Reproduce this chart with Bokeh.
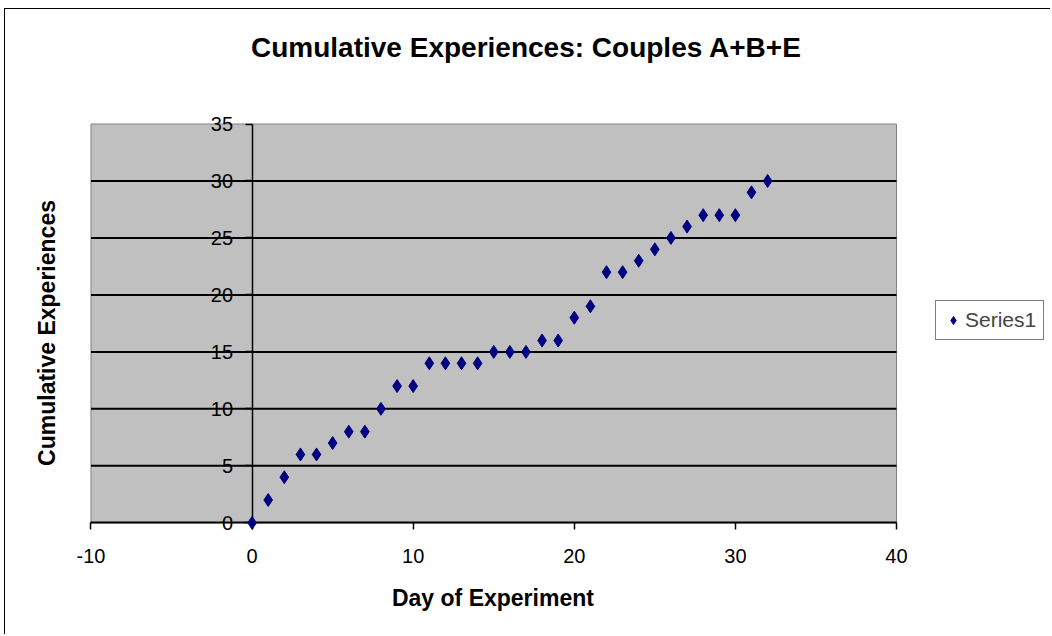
import math
from bokeh.plotting import figure
from bokeh.models import Range1d, Label, Legend, LegendItem, FixedTicker, ColumnDataSource
from bokeh.embed import file_html
from bokeh.resources import INLINE

# Data
days = list(range(0, 33))
cumulative = [0, 2, 4, 6, 6, 7, 8, 8, 10, 12, 12, 14, 14, 14, 14, 15, 15, 15,
              16, 16, 18, 19, 22, 22, 23, 24, 25, 26, 27, 27, 27, 29, 30]
x_ticks = [-10, 0, 10, 20, 30, 40]
y_ticks = [0, 5, 10, 15, 20, 25, 30, 35]
series_name = "Series1"
title_text = "Cumulative Experiences: Couples A+B+E"
x_label = "Day of Experiment"
y_label = "Cumulative Experiences"

FONT = "Liberation Sans"

x_lo, x_hi = x_ticks[0], x_ticks[-1]
y_lo, y_hi = y_ticks[0], y_ticks[-1]

# canvas covers the whole chart area; the plot area is a sub-rectangle of it
p = figure(width=1046, height=626, output_backend="svg", toolbar_location=None,
           x_range=Range1d(-15.307, 49.622), y_range=Range1d(-9.891, 45.05),
           min_border=0)
p.min_border_left = 0
p.min_border_right = 0
p.min_border_top = 0
p.min_border_bottom = 0
p.title.visible = False
p.background_fill_color = "white"
p.border_fill_color = "white"
p.outline_line_color = None
p.xgrid.visible = False
p.ygrid.visible = False
p.styles = {"margin-left": "4px", "margin-top": "8px",
            "border-left": "1px solid black", "border-top": "1px solid black"}

# plot area
p.quad(left=[x_lo], right=[x_hi], bottom=[y_lo], top=[y_hi],
       fill_color="#C0C0C0", line_color="#808080", line_width=1)
# horizontal gridlines
inner = y_ticks[1:-1]
p.segment(x0=[x_lo] * len(inner), x1=[x_hi] * len(inner), y0=inner, y1=inner,
          line_color="black", line_width=2)

# x axis crossing at y = 0
p.xaxis.fixed_location = 0
p.xaxis.bounds = (x_lo, x_hi)
p.xaxis.ticker = FixedTicker(ticks=x_ticks)
p.xaxis.major_label_overrides = {t: str(t) for t in x_ticks}
p.xaxis.axis_line_color = "black"
p.xaxis.axis_line_width = 2
p.xaxis.major_tick_line_width = 1.5
p.xaxis.major_tick_out = 7
p.xaxis.major_tick_in = 0
p.xaxis.minor_tick_out = 0
p.xaxis.minor_tick_in = 0
p.xaxis.major_label_standoff = 19
p.xaxis.major_label_text_font = FONT
p.xaxis.major_label_text_font_size = "20px"
p.xaxis.major_label_text_color = "black"

# y axis crossing at x = 0
p.yaxis.fixed_location = 0
p.yaxis.bounds = (y_lo, y_hi)
p.yaxis.ticker = FixedTicker(ticks=y_ticks)
p.yaxis.axis_line_color = "black"
p.yaxis.axis_line_width = 1.5
p.yaxis.major_tick_line_width = 1.5
p.yaxis.major_tick_out = 7
p.yaxis.major_tick_in = 0
p.yaxis.minor_tick_out = 0
p.yaxis.minor_tick_in = 0
p.yaxis.major_label_standoff = 12
p.yaxis.major_label_text_font = FONT
p.yaxis.major_label_text_font_size = "20px"
p.yaxis.major_label_text_color = "black"

src = ColumnDataSource(dict(x=days, y=cumulative))
r = p.scatter("x", "y", source=src, marker="diamond", size=13,
              fill_color="#000080", line_color="#000080", line_width=1)
r.level = "overlay"

legend = Legend(items=[LegendItem(label=series_name, renderers=[r])],
                location=(930, 295), border_line_color="black", border_line_width=1.5,
                background_fill_color="white", background_fill_alpha=1.0,
                label_text_font=FONT, label_text_font_size="21px",
                glyph_width=20, glyph_height=22, label_standoff=2,
                padding=7, margin=0)
p.add_layout(legend, "center")

# title
p.add_layout(Label(x=17.03, y=41.72, text=title_text, text_align="center",
                   text_baseline="alphabetic", text_font=FONT, text_font_size="28px",
                   text_font_style="bold", text_color="black"))
# x label
p.add_layout(Label(x=14.95, y=-6.56, text=x_label, text_align="center",
                   text_baseline="alphabetic", text_font=FONT, text_font_size="23px",
                   text_font_style="bold", text_color="black"))
# y label
p.add_layout(Label(x=-12.76, y=16.66, text=y_label, angle=math.pi / 2, text_align="center",
                   text_baseline="alphabetic", text_font=FONT, text_font_size="23px",
                   text_font_style="bold", text_color="black"))

open("out.html", "w").write(file_html(p, INLINE))
